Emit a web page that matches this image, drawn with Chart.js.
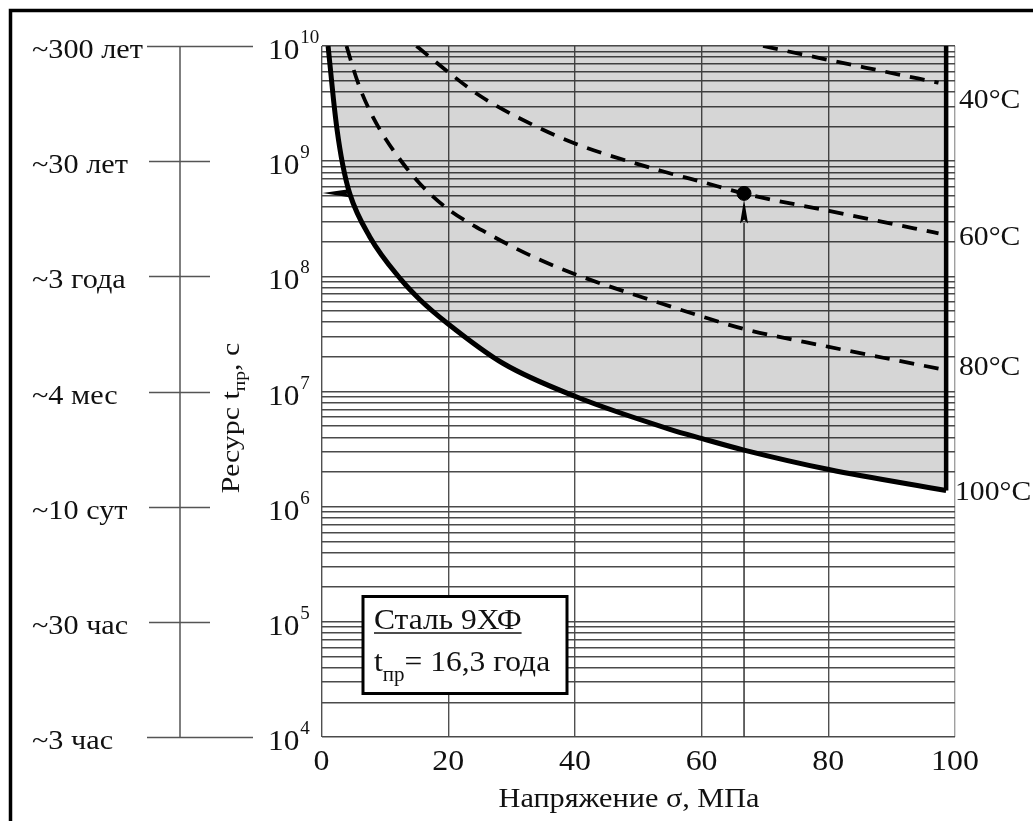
<!DOCTYPE html>
<html><head><meta charset="utf-8">
<script src="https://cdn.jsdelivr.net/npm/chart.js@4/dist/chart.umd.min.js"></script>
<style>html,body{margin:0;padding:0;background:#fff;}canvas{display:block;}</style>
</head><body>
<canvas id="c" width="1033" height="821"></canvas>
<script>
// ---- data ----
const stressTicks = [0, 20, 40, 60, 80, 100];
const resourceDecades = [4, 5, 6, 7, 8, 9, 10];
const auxLabels = ['~3 час', '~30 час', '~10 сут', '~4 мес', '~3 года', '~30 лет', '~300 лет'];
const tempLabels = ['40°C', '60°C', '80°C', '100°C'];

const c100X = [1.04, 1.5, 1.9, 2.46, 3.32, 4.47, 7.63, 12.6, 15.5, 19.9, 28.7, 40.2, 55, 60.1, 66.7, 80.1, 98.6];
const c100Y = [1e10, 5.6e9, 3.4e9, 1.87e9, 9.5e8, 5.2e8, 2.2e8, 9.3e7, 6.3e7, 3.9e7, 1.75e7, 9.0e6, 4.7e6, 3.9e6, 3.1e6, 2.1e6, 1.38e6];
const c80X = [3.95, 5.0, 6.3, 8.15, 10.26, 12.9, 15.5, 19.9, 26.6, 33.4, 40.3, 53.9, 60.1, 66.6, 80.1, 97.4];
const c80Y = [1e10, 6.4e9, 4e9, 2.4e9, 1.52e9, 9.5e8, 6.4e8, 3.86e8, 2.3e8, 1.48e8, 1.03e8, 5.75e7, 4.47e7, 3.5e7, 2.44e7, 1.58e7];
const c60X = [15.0, 19.9, 25, 33.4, 40.2, 53.4, 60.1, 66.6, 80.1, 97.4];
const c60Y = [1e10, 6.0e9, 3.7e9, 2.06e9, 1.41e9, 8.3e8, 6.6e8, 5.25e8, 3.7e8, 2.36e8];
const c40X = [69.7, 80.1, 87.6, 97.4];
const c40Y = [1e10, 7.55e9, 6.2e9, 4.8e9];

const boundarySigma = 98.6;
const markerSigma = 66.7;
const markerT = 5.25e8;
const arrowBaseSigma = 4.6;

const pts = (xs, ys) => xs.map((x, i) => ({x, y: ys[i]}));

// ---- text helpers ----
const SERIF = '"Liberation Serif", "Times New Roman", serif';
function txt(ctx, s, x, y, size, align, sx) {
  ctx.save();
  ctx.font = size + 'px ' + SERIF;
  ctx.textBaseline = 'alphabetic';
  ctx.textAlign = align || 'left';
  ctx.translate(x, y);
  ctx.scale(sx || 1, 1);
  ctx.fillText(s, 0, 0);
  ctx.restore();
}
function wid(ctx, s, size, sx) {
  ctx.save(); ctx.font = size + 'px ' + SERIF;
  const w = ctx.measureText(s).width * (sx || 1);
  ctx.restore(); return w;
}
function seq(ctx, segs, x, y, sx) {
  let cx = x;
  segs.forEach(([t, size, dy]) => { txt(ctx, t, cx, y + dy, size, 'left', sx); cx += wid(ctx, t, size, sx); });
  return cx;
}
function seqWidth(ctx, segs, sx) { return segs.reduce((a, [t, size]) => a + wid(ctx, t, size, sx), 0); }
function ln(ctx, x1, y1, x2, y2) { ctx.beginPath(); ctx.moveTo(x1, y1); ctx.lineTo(x2, y2); ctx.stroke(); }

const deco = {
  id: 'deco',
  afterDraw(chart) {
    const ctx = chart.ctx, xs = chart.scales.x, ys = chart.scales.y;
    ctx.save();
    ctx.fillStyle = '#111';
    ctx.strokeStyle = '#000'; ctx.lineWidth = 3.5;
    ctx.strokeRect(10.5, 10.5, 1100, 900);

    const yTop = ys.getPixelForValue(1e10), yBot = ys.getPixelForValue(1e4);
    ctx.strokeStyle = '#555'; ctx.lineWidth = 1.5;
    ln(ctx, 180, yTop, 180, yBot);
    resourceDecades.forEach((d, i) => {
      const y = Math.round(ys.getPixelForValue(Math.pow(10, d))) + 0.5;
      const edge = (d === 4 || d === 10);
      ln(ctx, edge ? 147 : 149, y, edge ? 253 : 210, y);
      txt(ctx, auxLabels[i], 32, y + 11, 27, 'left', 1.12);
      const bw = wid(ctx, '10', 29, 1.08);
      txt(ctx, '10', 268, y + 12, 29, 'left', 1.08);
      txt(ctx, String(d), 268 + bw + 1, y - 4, 19, 'left', 1.0);
    });

    stressTicks.forEach(v => txt(ctx, String(v), xs.getPixelForValue(v), 770, 29, 'center', 1.1));
    txt(ctx, 'Напряжение σ, МПа', 629, 806.5, 27, 'center', 1.12);
    ctx.save();
    ctx.translate(238.5, 418);
    ctx.rotate(-Math.PI / 2);
    const tsegs = [['Ресурс t', 26, 0], ['пр', 17, 6], [', с', 26, 0]];
    const tw = seqWidth(ctx, tsegs, 1.15);
    seq(ctx, tsegs, -tw / 2, 0, 1.15);
    ctx.restore();

    txt(ctx, tempLabels[0], 959, 108, 28, 'left', 1.06);
    txt(ctx, tempLabels[1], 959, 245, 28, 'left', 1.06);
    txt(ctx, tempLabels[2], 959, 375, 28, 'left', 1.06);
    txt(ctx, tempLabels[3], 955, 500, 28, 'left', 1.06);

    const mx = xs.getPixelForValue(markerSigma), my = ys.getPixelForValue(markerT);
    ctx.fillStyle = '#000';
    ctx.beginPath();
    ctx.moveTo(mx, my + 6);
    ctx.lineTo(mx + 4, my + 30);
    ctx.lineTo(mx, my + 26);
    ctx.lineTo(mx - 4, my + 30);
    ctx.closePath(); ctx.fill();
    const ax0 = xs.getPixelForValue(0) + 1, ax1 = xs.getPixelForValue(arrowBaseSigma);
    ctx.beginPath();
    ctx.moveTo(ax0, my - 0.5);
    ctx.lineTo(ax1, my - 4.5);
    ctx.lineTo(ax1 - 4, my);
    ctx.lineTo(ax1, my + 4);
    ctx.closePath(); ctx.fill();

    ctx.fillStyle = '#fff';
    ctx.fillRect(362, 595, 206, 100);
    ctx.strokeStyle = '#000'; ctx.lineWidth = 3;
    ctx.strokeRect(363, 596.5, 204, 97);
    ctx.fillStyle = '#111';
    txt(ctx, 'Сталь 9ХФ', 374, 629, 30, 'left', 1.05);
    const uw = wid(ctx, 'Сталь 9ХФ', 30, 1.05);
    ctx.strokeStyle = '#111'; ctx.lineWidth = 1.5;
    ln(ctx, 374, 633, 374 + uw, 633);
    seq(ctx, [['t', 30, 0], ['пр', 20, 10], ['= 16,3 года', 30, 0]], 374, 671, 1.05);
    ctx.restore();
  }
};

const ticksOfLog = () => {
  const t = [];
  for (let d = 4; d < 10; d++) for (let k = 1; k <= 9; k++) t.push({value: k * Math.pow(10, d)});
  t.push({value: 1e10});
  return t;
};

new Chart(document.getElementById('c'), {
  type: 'line',
  data: {
    datasets: [
      { data: pts(c100X, c100Y), borderColor: '#000', borderWidth: 5, pointRadius: 0,
        cubicInterpolationMode: 'monotone', fill: 'end', backgroundColor: 'rgba(0,0,0,0.16)' },
      { data: [{x: boundarySigma, y: c100Y[c100Y.length - 1]}, {x: boundarySigma, y: 1e10}],
        borderColor: '#000', borderWidth: 4.5, pointRadius: 0, fill: false },
      { data: pts(c80X, c80Y), borderColor: '#000', borderWidth: 3.8, borderDash: [15, 10], pointRadius: 0,
        cubicInterpolationMode: 'monotone', fill: false },
      { data: pts(c60X, c60Y), borderColor: '#000', borderWidth: 3.8, borderDash: [15, 10], pointRadius: 0,
        cubicInterpolationMode: 'monotone', fill: false },
      { data: pts(c40X, c40Y), borderColor: '#000', borderWidth: 3.8, borderDash: [15, 10], pointRadius: 0,
        cubicInterpolationMode: 'monotone', fill: false },
      { data: [{x: markerSigma, y: 1e4}, {x: markerSigma, y: 2.9e8}], borderColor: '#333', borderWidth: 1.5,
        pointRadius: 0, fill: false },
      { data: [{x: markerSigma, y: markerT}], showLine: false, pointRadius: 7, pointBackgroundColor: '#000',
        pointBorderColor: '#000', fill: false }
    ]
  },
  options: {
    responsive: false,
    animation: false,
    events: [],
    layout: { padding: { left: 321.5, right: 78, top: 46, bottom: 84 } },
    plugins: { legend: { display: false }, tooltip: { enabled: false } },
    scales: {
      x: {
        type: 'linear', min: 0, max: 100,
        afterBuildTicks: s => { s.ticks = stressTicks.map(v => ({value: v})); },
        ticks: { display: false },
        border: { display: false },
        grid: { drawTicks: false, lineWidth: 1.4,
          color: c => (c.tick && c.tick.value === 100) ? '#a0a0a0' : '#505050' }
      },
      y: {
        type: 'logarithmic', min: 1e4, max: 1e10,
        afterBuildTicks: s => { s.ticks = ticksOfLog(); },
        ticks: { display: false },
        border: { display: false },
        grid: { drawTicks: false, lineWidth: 1.4, color: '#4a4a4a' }
      }
    }
  },
  plugins: [deco]
});
</script>
</body></html>
